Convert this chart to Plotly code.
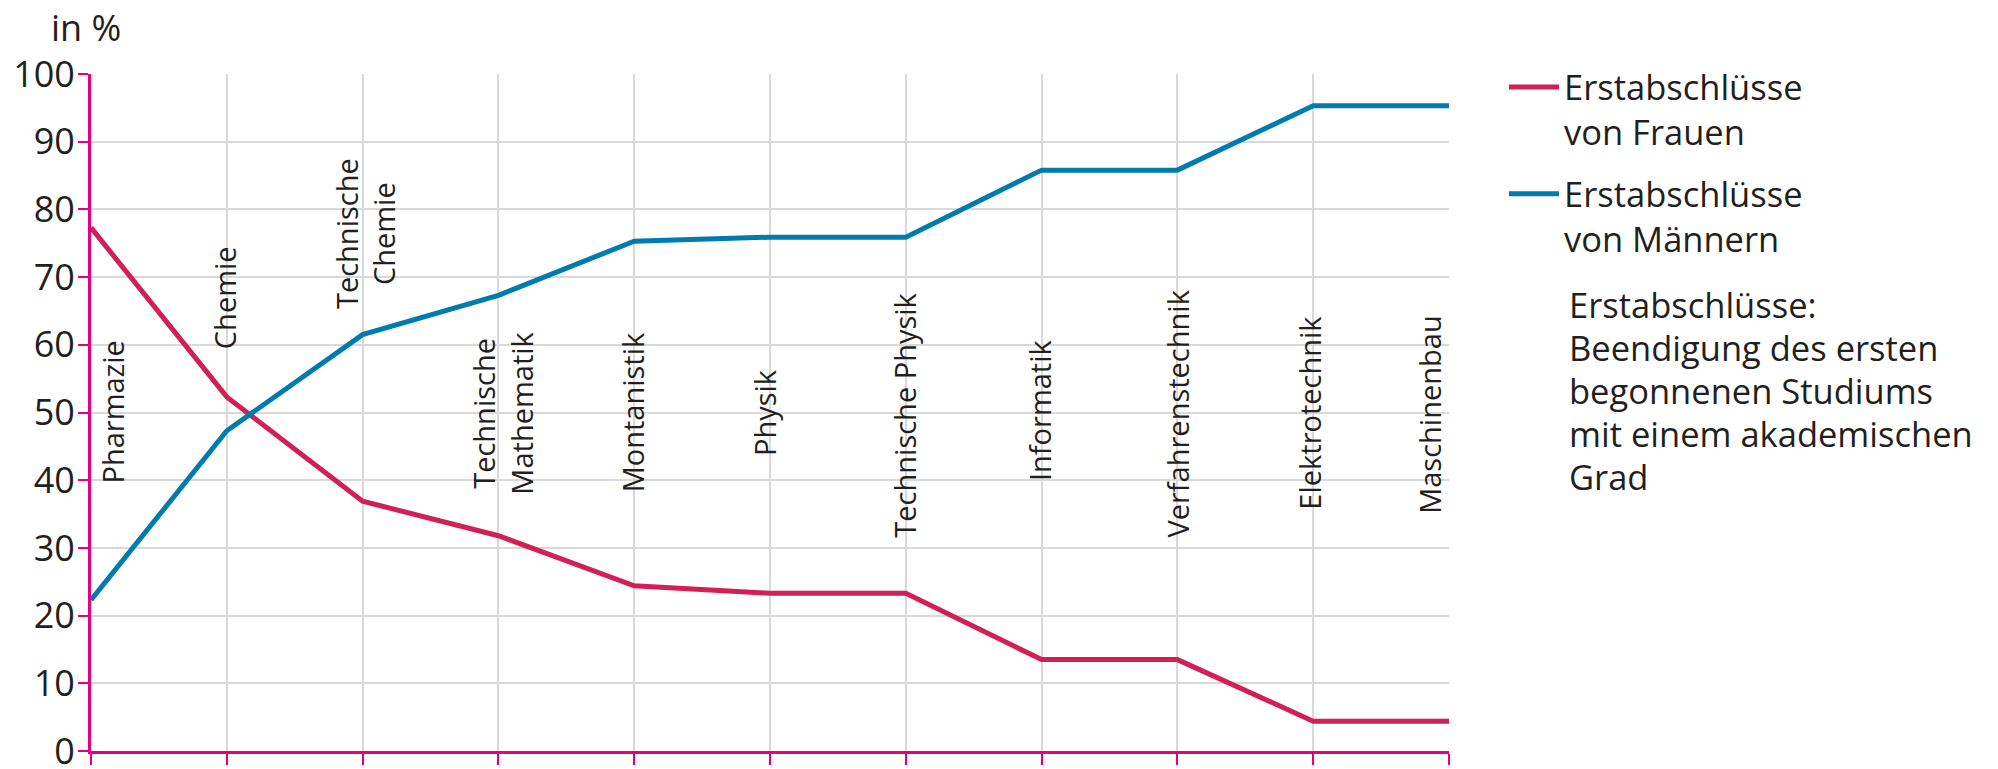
import plotly.graph_objects as go

# ---- data ----
categories = ["Pharmazie", "Chemie", "Technische<br>Chemie", "Technische<br>Mathematik",
              "Montanistik", "Physik", "Technische Physik", "Informatik",
              "Verfahrenstechnik", "Elektrotechnik", "Maschinenbau"]
frauen = [77.3, 52.3, 36.9, 31.8, 24.4, 23.3, 23.3, 13.5, 13.5, 4.4, 4.4]
maenner = [22.3, 47.3, 61.5, 67.3, 75.3, 75.9, 75.9, 85.8, 85.8, 95.3, 95.3]
y_ticks = [0, 10, 20, 30, 40, 50, 60, 70, 80, 90, 100]
series_names = ["Erstabschlüsse<br>von Frauen", "Erstabschlüsse<br>von Männern"]
note_lines = ["Erstabschlüsse:", "Beendigung des ersten", "begonnenen Studiums",
              "mit einem akademischen", "Grad"]
unit_text = "in %"

# ---- styles / layout constants ----
FONT = "Open Sans"
TXT = "#231f20"
PINK = "#e6007e"
RED = "#d21f55"
BLUE = "#007bb0"
GRID = "#d9d9d9"
W, H = 1998, 769
OFF = 8  # page offset of the figure inside the browser window
ML, MR, MT = 91 - OFF, 549 + OFF, 74 - OFF
MB = 17.5 + OFF
PW = W - ML - MR
PH = H - MT - MB


def px_x(px):
    return (px - OFF - ML) / PW


def px_y(py):
    return 1 - (py - OFF - MT) / PH


# label placement (offset from category position in x, centre in y)
label_place = [(0.155, 50), (-0.015, 67), (0.02, 76.4), (0.03, 49.9), (-0.01, 50),
               (-0.04, 50), (-0.01, 49.6), (-0.01, 50.4), (0.0, 49.9), (-0.03, 50),
               (-0.14, 49.8)]

xpos = list(range(len(categories)))

fig = go.Figure()
fig.add_trace(go.Scatter(x=xpos, y=frauen, mode="lines", name=series_names[0],
                         line=dict(color=RED, width=5), legendgroup="f"))
fig.add_trace(go.Scatter(x=xpos, y=maenner, mode="lines", name=series_names[1],
                         line=dict(color=BLUE, width=5), legendgroup="m"))

annotations = []
for i, (lab, (dx, yc)) in enumerate(zip(categories, label_place)):
    annotations.append(dict(x=xpos[i] + dx, y=yc, xref="x", yref="y", text=lab,
                            textangle=-90, showarrow=False, xanchor="center",
                            yanchor="middle", align="center",
                            font=dict(family=FONT, size=29, color=TXT)))
annotations.append(dict(x=px_x(49), y=px_y(27.5), xref="paper", yref="paper",
                        text=unit_text, showarrow=False, xanchor="left",
                        yanchor="middle", font=dict(family=FONT, size=36, color=TXT)))
for k, line in enumerate(note_lines):
    annotations.append(dict(x=px_x(1567), y=px_y(305 + 43 * k), xref="paper",
                            yref="paper", text=line, showarrow=False, xanchor="left",
                            yanchor="middle", align="left",
                            font=dict(family=FONT, size=34.5, color=TXT)))

fig.update_layout(
    width=W, height=H,
    margin=dict(l=ML, r=MR, t=MT, b=MB),
    paper_bgcolor="white", plot_bgcolor="white",
    font=dict(family=FONT, size=34, color=TXT),
    showlegend=True,
    legend=dict(x=px_x(1504), y=px_y(58), xanchor="left", yanchor="top",
                font=dict(family=FONT, size=34.5, color=TXT),
                traceorder="grouped", tracegroupgap=14, valign="top",
                itemwidth=50, bgcolor="rgba(0,0,0,0)"),
    annotations=annotations,
)
fig.update_xaxes(range=[0, 10], tickvals=xpos, showticklabels=False, automargin=False,
                 ticks="outside", ticklen=11, tickwidth=2.2, tickcolor=PINK,
                 showline=True, linecolor=PINK, linewidth=2.8,
                 showgrid=True, gridcolor=GRID, gridwidth=1.6, zeroline=False,
                 fixedrange=True)
fig.update_yaxes(range=[0, 100], tickvals=y_ticks, ticks="outside", ticklen=10,
                 automargin=False, ticklabelstandoff=-4,
                 tickwidth=2.2, tickcolor=PINK, showline=True, linecolor=PINK,
                 linewidth=2.8, showgrid=True, gridcolor=GRID, gridwidth=1.6,
                 zeroline=False, tickfont=dict(family=FONT, size=36, color=TXT),
                 fixedrange=True)

fig.write_html("out.html")
